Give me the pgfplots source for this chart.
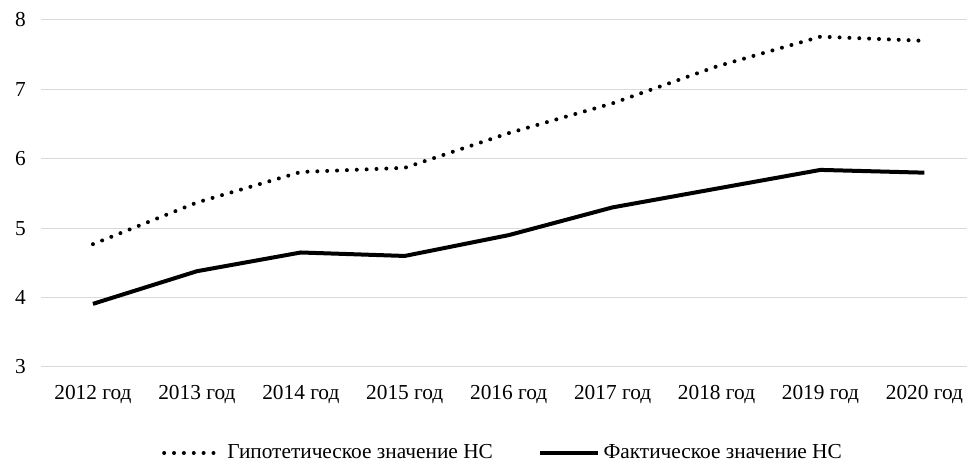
\documentclass[border=0pt]{standalone}
\usepackage{fontspec}
\setmainfont{Liberation Serif}
\usepackage{pgfplots}
\pgfplotsset{compat=1.18}
\definecolor{gridgray}{HTML}{D9D9D9}
\begin{document}
\fontsize{16}{19}\selectfont
\begin{tikzpicture}
\useasboundingbox (0,0) rectangle (725.25pt,347.25pt);
\begin{axis}[
  at={(30.75pt,72pt)}, anchor=south west,
  scale only axis, width=694.5pt, height=260.25pt,
  xmin=-0.5, xmax=8.41, ymin=3, ymax=8,
  xtick={0,...,8},
  xticklabels={2012 год,2013 год,2014 год,2015 год,2016 год,2017 год,2018 год,2019 год,2020 год},
  ytick={3,4,5,6,7,8},
  ymajorgrids, grid style={gridgray, line width=0.75pt},
  axis line style={draw=none},
  major tick length=0pt,
  /pgf/number format/assume math mode=true,
  ticklabel style={font=\fontsize{16}{19}\selectfont, inner sep=0pt},
  yticklabel style={anchor=east, xshift=-11.25pt},
  xticklabel style={anchor=north, yshift=-13.5pt},
  legend columns=2,
  legend style={draw=none, fill=none, at={(0.5,0)}, anchor=center, xshift=0pt, yshift=-64.5pt,
    font=\fontsize{16}{19}\selectfont,
    /tikz/every even column/.append style={column sep=31pt},
    nodes={inner sep=3pt}},
  legend image code/.code={\draw[#1] (0pt,0pt) -- (43pt,0pt);},
]
\addplot[black, line width=3pt, line cap=round, dash pattern=on 0pt off 7.4pt] coordinates {
(0,4.77) (1,5.37) (2,5.81) (3,5.87) (4,6.37) (5,6.80) (6,7.33) (7,7.76) (8,7.70)};
\addlegendentry{Гипотетическое значение НС}
\addplot[black, line width=3pt, line join=round] coordinates {
(0,3.91) (1,4.38) (2,4.65) (3,4.60) (4,4.90) (5,5.30) (6,5.57) (7,5.84) (8,5.80)};
\addlegendentry{Фактическое значение НС}
\end{axis}
\end{tikzpicture}
\end{document}
